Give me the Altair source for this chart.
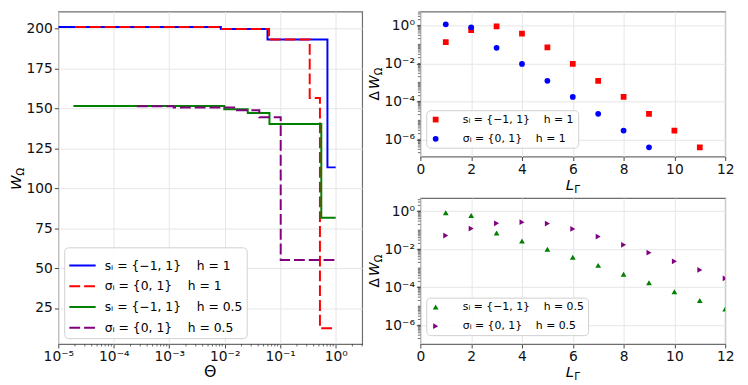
import altair as alt
import pandas as pd

NB = "\u00a0"
GAP = NB * 4

# ---------------- left panel: W_Omega vs Theta (step curves) ----------------
left_labels = [
    "sᵢ = {−1, 1}" + GAP + "h = 1",
    "σᵢ = {0, 1}" + GAP + "h = 1",
    "sᵢ = {−1, 1}" + GAP + "h = 0.5",
    "σᵢ = {0, 1}" + GAP + "h = 0.5",
]
left_colors = ["#0000ff", "#ff0000", "#008000", "#800080"]
left_dashes = [[1, 0], [11, 4], [1, 0], [11, 4]]

theta_s_h1 = [1e-5, 0.0085, 0.059, 0.71, 1.0]
W_s_h1 = [200.8, 199.6, 193.0, 113.0, 113.0]
theta_sig_h1 = [2e-5, 0.0085, 0.063, 0.34, 0.52, 1.0]
W_sig_h1 = [200.8, 199.6, 193.0, 156.4, 12.3, 12.3]
theta_s_h05 = [1.87e-5, 0.0098, 0.026, 0.064, 0.55, 1.0]
W_s_h05 = [151.4, 149.4, 147.0, 140.1, 81.5, 81.5]
theta_sig_h05 = [2.6e-4, 0.0012, 0.0166, 0.042, 0.102, 1.0]
W_sig_h05 = [151.2, 150.4, 148.8, 144.3, 55.1, 55.1]

left_x_ticks = [1e-5, 1e-4, 1e-3, 1e-2, 1e-1, 1e0]
left_x_ticklabels = ["10⁻⁵", "10⁻⁴", "10⁻³", "10⁻²", "10⁻¹", "10⁰"]
left_x_minor = [m * 10.0 ** e for e in range(-5, 1) for m in range(2, 10) if m * 10.0 ** e <= 3]
left_y_ticks = [25, 50, 75, 100, 125, 150, 175, 200]

# ---------------- right panels: Delta W_Omega vs L_Gamma ----------------
rt_labels = ["sᵢ = {−1, 1}" + GAP + "h = 1", "σᵢ = {0, 1}" + GAP + "h = 1 "]
rt_colors = ["#ff0000", "#0000ff"]
rt_shapes = ["square", "circle"]
L_sq = [1, 2, 3, 4, 5, 6, 7, 8, 9, 10, 11]
dW_sq = [0.13, 0.57, 0.89, 0.37, 0.069, 0.0093, 0.0012, 1.7e-4, 2.2e-5, 2.9e-6, 3.8e-7]
L_circ = [1, 2, 3, 4, 5, 6, 7, 8, 9]
dW_circ = [1.13, 0.79, 0.066, 0.0093, 0.0012, 1.7e-4, 2.2e-5, 2.9e-6, 3.8e-7]

rb_labels = ["sᵢ = {−1, 1}" + GAP + "h = 0.5 ", "σᵢ = {0, 1}" + GAP + "h = 0.5 "]
rb_colors = ["#008000", "#800080"]
rb_shapes = ["triangle-up", "triangle-right"]
L_tri = [1, 2, 3, 4, 5, 6, 7, 8, 9, 10, 11, 12]
dW_tri = [0.81, 0.59, 0.071, 0.027, 0.010, 0.0037, 0.0014, 4.8e-4, 1.7e-4, 5.8e-5, 2.0e-5, 7.2e-6]
L_tri_r = [1, 2, 3, 4, 5, 6, 7, 8, 9, 10, 11, 12]
dW_tri_r = [0.052, 0.12, 0.23, 0.26, 0.22, 0.115, 0.046, 0.017, 0.0065, 0.0023, 8.1e-4, 2.9e-4]

right_x_ticks = [0, 2, 4, 6, 8, 10, 12]
right_y_ticks = [1e-6, 1e-4, 1e-2, 1e0]
right_y_ticklabels = ["10⁻⁶", "10⁻⁵", "10⁻⁴", "10⁻³", "10⁻²", "10⁻¹", "10⁰"]
right_y_minor = [m * 10.0 ** e for e in range(-7, 1) for m in range(1, 10)]

FONT = "DejaVu Sans"
TICK_COLOR = "#444444"

# ---------------- sizes ----------------
LW, LH = 308, 337
RW, RH1, RH2 = 309, 147, 148


def text_layer(s, x, y, size, angle=0, italic=False, align="left"):
    return alt.Chart(pd.DataFrame({"t": [s]})).mark_text(
        font=FONT, fontSize=size, angle=angle, align=align, baseline="alphabetic",
        fontStyle="italic" if italic else "normal", color="#000000",
    ).encode(text="t:N", x=alt.value(x), y=alt.value(y))


# ---------------- left chart ----------------
rows = []
for lab, xs, ys in zip(left_labels,
                       [theta_s_h1, theta_sig_h1, theta_s_h05, theta_sig_h05],
                       [W_s_h1, W_sig_h1, W_s_h05, W_sig_h05]):
    for xv, yv in zip(xs, ys):
        rows.append({"theta": xv, "W": yv, "series": lab})
left_df = pd.DataFrame(rows)

left_x_scale = alt.Scale(type="log", domain=[1e-5, 3], nice=False)
left_y_scale = alt.Scale(domain=[2.5, 210.5], nice=False, zero=False)
left_x_axis = alt.Axis(
    values=left_x_ticks, title=None, grid=True, labelFlush=False, labelOverlap=False,
    labelExpr="[" + ",".join("'" + t + "'" for t in left_x_ticklabels) + "][round(log(datum.value)/LN10)+5]",
)
left_y_axis = alt.Axis(values=left_y_ticks, title=None, grid=True, labelFlush=False, labelOverlap=False)

left_legend = alt.Legend(
    title=None, orient="none", legendX=6, legendY=239, symbolType="stroke",
    symbolSize=713, symbolStrokeWidth=2, labelFontSize=12.5, rowPadding=0,
    labelOffset=8, padding=4,
)

lines = alt.Chart(left_df).mark_line(interpolate="step-after", strokeWidth=2, clip=True).encode(
    x=alt.X("theta:Q", scale=left_x_scale, axis=left_x_axis),
    y=alt.Y("W:Q", scale=left_y_scale, axis=left_y_axis),
    color=alt.Color("series:N", scale=alt.Scale(domain=left_labels, range=left_colors), legend=left_legend),
    strokeDash=alt.StrokeDash("series:N", scale=alt.Scale(domain=left_labels, range=left_dashes), legend=left_legend),
)
left_minor = alt.Chart(pd.DataFrame({"theta": left_x_minor})).mark_rule(color=TICK_COLOR, strokeWidth=0.8).encode(
    x=alt.X("theta:Q", scale=left_x_scale, axis=left_x_axis),
    y=alt.value(LH), y2=alt.value(LH + 2.5),
)
left = alt.layer(
    lines, left_minor,
    text_layer("W", -38, 181, 15, angle=270, italic=True),
    text_layer("Ω", -35, 166.5, 10.5, angle=270),
    text_layer("Θ", LW / 2, LH + 33, 16, align="center"),
).properties(width=LW, height=LH)


# ---------------- right charts ----------------
def right_chart(df, labels, colors, shapes, ydom, legend_y, H):
    y_scale = alt.Scale(type="log", domain=ydom, nice=False)
    x_scale = alt.Scale(domain=[0, 12], nice=False, zero=False)
    x_axis = alt.Axis(values=right_x_ticks, title=None, grid=True, labelFlush=False, labelOverlap=False, format="d")
    y_axis = alt.Axis(
        values=right_y_ticks, title=None, grid=True, labelFlush=False, labelOverlap=False,
        labelExpr="[" + ",".join("'" + t + "'" for t in right_y_ticklabels) + "][round(log(datum.value)/LN10)+6]",
    )
    leg = alt.Legend(
        title=None, orient="none", legendX=6, legendY=legend_y, symbolSize=34,
        labelFontSize=11, rowPadding=7.5, labelOffset=22, padding=4,
    )
    pts = alt.Chart(df).mark_point(filled=True, size=34, opacity=1, clip=True).encode(
        x=alt.X("L:Q", scale=x_scale, axis=x_axis),
        y=alt.Y("dW:Q", scale=y_scale, axis=y_axis),
        color=alt.Color("series:N", scale=alt.Scale(domain=labels, range=colors), legend=leg),
        shape=alt.Shape("series:N", scale=alt.Scale(domain=labels, range=shapes), legend=leg),
    )
    lo, hi = ydom
    minor_vals = [v for v in right_y_minor if lo <= v <= hi]
    minor = alt.Chart(pd.DataFrame({"dW": minor_vals})).mark_rule(color=TICK_COLOR, strokeWidth=0.8).encode(
        y=alt.Y("dW:Q", scale=y_scale, axis=y_axis),
        x=alt.value(0), x2=alt.value(-2.5),
    )
    return alt.layer(
        pts, minor,
        text_layer("Δ", -41.8, H / 2 + 16.7, 14, angle=270),
        text_layer("W", -41.8, H / 2 + 5, 14, angle=270, italic=True),
        text_layer("Ω", -38.8, H / 2 - 8.9, 10, angle=270),
        text_layer("L", RW / 2 - 7.2, H + 33.5, 15, italic=True),
        text_layer("Γ", RW / 2 + 1.5, H + 36.5, 10.5),
    ).properties(width=RW, height=H)


top_rows = [{"L": a, "dW": b, "series": rt_labels[0]} for a, b in zip(L_sq, dW_sq)] + \
           [{"L": a, "dW": b, "series": rt_labels[1]} for a, b in zip(L_circ, dW_circ)]
bot_rows = [{"L": a, "dW": b, "series": rb_labels[0]} for a, b in zip(L_tri, dW_tri)] + \
           [{"L": a, "dW": b, "series": rb_labels[1]} for a, b in zip(L_tri_r, dW_tri_r)]

top = right_chart(pd.DataFrame(top_rows), rt_labels, rt_colors, rt_shapes,
                  [10 ** -6.905, 10 ** 0.728], 100, RH1)
bottom = right_chart(pd.DataFrame(bot_rows), rb_labels, rb_colors, rb_shapes,
                     [10 ** -6.99, 10 ** 0.69], 101, RH2)

IND = dict(color="independent", shape="independent", strokeDash="independent")

right = alt.vconcat(top, bottom, spacing=42, bounds="flush").resolve_scale(**IND).resolve_legend(**IND)

chart = alt.hconcat(left, right, spacing=59, bounds="flush").resolve_scale(**IND).resolve_legend(**IND).properties(
    padding={"left": 0, "top": 0, "right": 5, "bottom": 2}
).configure_axis(
    labelFont=FONT, labelFontSize=14, labelColor="#111111", tickColor=TICK_COLOR,
    tickSize=4, tickWidth=1, domain=False, gridColor="#e6e6e6", gridWidth=1, labelPadding=2,
).configure_view(
    stroke="#6e6e6e", strokeWidth=1.2,
).configure_legend(
    labelFont=FONT, labelColor="#000000", fillColor="rgba(255,255,255,0.85)",
    strokeColor="#d0d0d0", cornerRadius=4, labelLimit=400,
)

chart.save("out.html", embed_options={"renderer": "svg", "actions": False})
